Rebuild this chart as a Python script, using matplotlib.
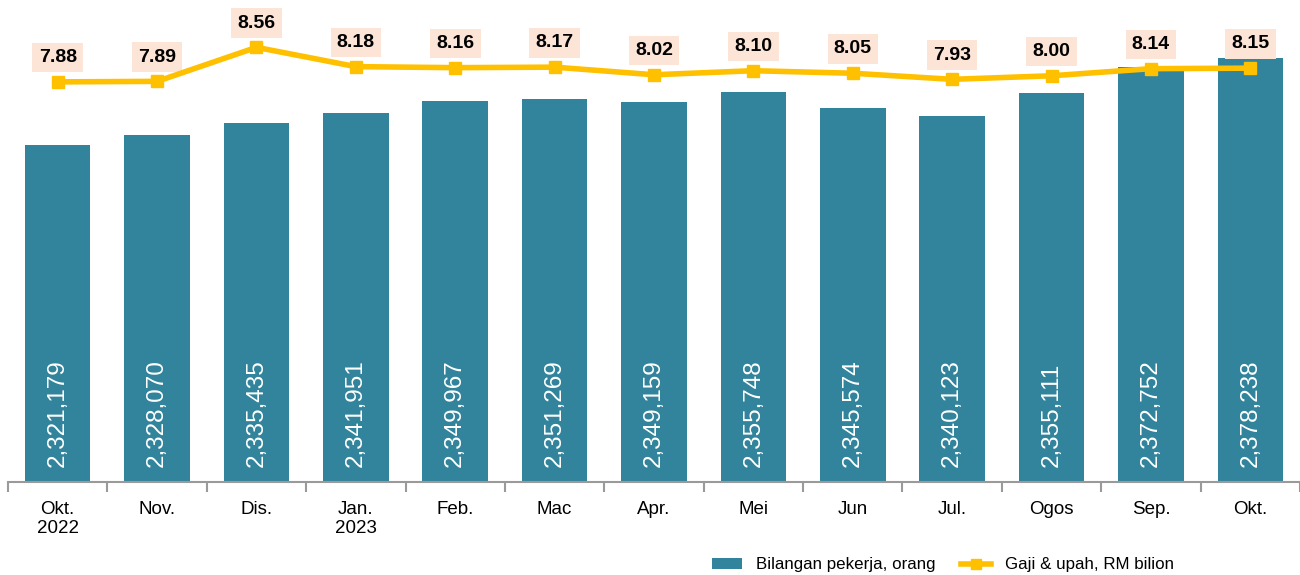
import matplotlib
matplotlib.use("Agg")
import matplotlib.pyplot as plt
from matplotlib.lines import Line2D
from matplotlib.patches import Patch

months = ["Okt.\n2022", "Nov.", "Dis.", "Jan.\n2023", "Feb.", "Mac", "Apr.",
          "Mei", "Jun", "Jul.", "Ogos", "Sep.", "Okt."]
workers = [2321179, 2328070, 2335435, 2341951, 2349967, 2351269, 2349159,
           2355748, 2345574, 2340123, 2355111, 2372752, 2378238]
wages = [7.88, 7.89, 8.56, 8.18, 8.16, 8.17, 8.02, 8.10, 8.05, 7.93, 8.00, 8.14, 8.15]

plt.rcParams['font.family'] = ['Liberation Sans', 'DejaVu Sans']

BAR = "#31849B"
LINE = "#FFC000"
BOX = "#FCE4D6"

fig = plt.figure(figsize=(13, 5.75), dpi=100)
ax = fig.add_axes([8/1300, 93/575, 1292/1300, 457/575])
x = list(range(len(months)))
ax.bar(x, workers, width=0.66, color=BAR, zorder=2)
ax.set_ylim(2100000, 2400000)
ax.set_xlim(-0.5, len(months) - 0.5)
for s in ["top", "right", "left"]:
    ax.spines[s].set_visible(False)
ax.spines["bottom"].set_color("#9a9a9a")
ax.spines["bottom"].set_linewidth(1.5)
ax.set_yticks([])
ax.set_xticks(x)
ax.set_xticklabels(months, fontsize=13.5, linespacing=1.15)
ax.tick_params(axis="x", which="major", length=0, pad=14)
ax.set_xticks([i - 0.5 for i in range(len(months) + 1)], minor=True)
ax.tick_params(axis="x", which="minor", length=7, width=1.5, color="#9a9a9a")

for xi, v in zip(x, workers):
    ax.annotate(f"{v:,}", (xi, 2100000), xytext=(0, 11), textcoords="offset points",
                rotation=90, ha="center", va="bottom", color="white", fontsize=17.5,
                zorder=3)

ax2 = ax.twinx()
ax2.set_ylim(0, 9)
ax2.set_yticks([])
for s in ["top", "right", "left", "bottom"]:
    ax2.spines[s].set_visible(False)
ax2.plot(x, wages, color=LINE, lw=4, marker="s", markersize=8.5, zorder=4,
         solid_joinstyle="round")
for xi, v in zip(x, wages):
    ax2.annotate(f"{v:.2f}", (xi, v), xytext=(0, 17.5), textcoords="offset points",
                 ha="center", va="center", fontsize=14, fontweight="bold",
                 color="black",
                 bbox=dict(boxstyle="square,pad=0.32", fc=BOX, ec="none"))

handles = [Patch(facecolor=BAR, edgecolor="none"),
           Line2D([0], [0], color=LINE, lw=4, marker="s", markersize=7)]
fig.legend(handles, ["Bilangan pekerja, orang", "Gaji & upah, RM bilion"],
           loc="center", bbox_to_anchor=(943/1300, 10/575), ncol=2, frameon=False,
           fontsize=12.2, handlelength=1.8, handleheight=0.55, columnspacing=1.5,
           handletextpad=0.8)

fig.savefig("out.png", dpi=100)
